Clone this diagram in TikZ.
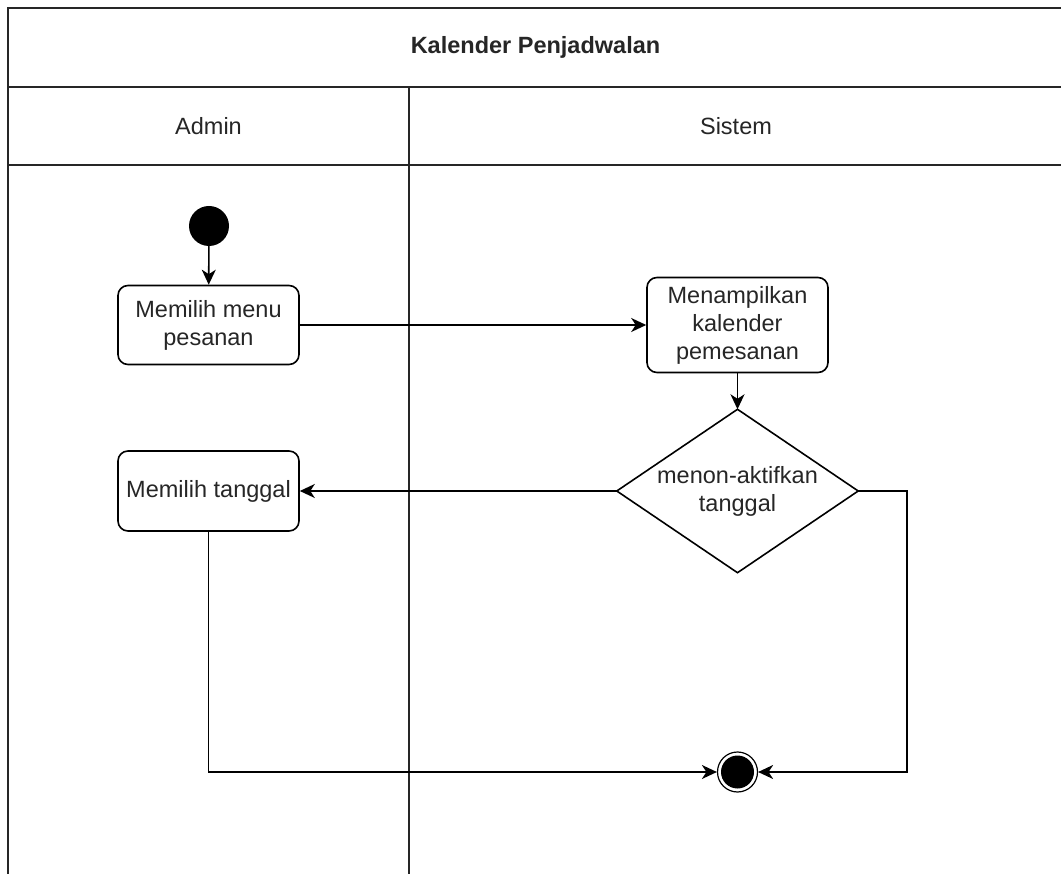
\documentclass[tikz,border=0pt]{standalone}
\usepackage{fontspec}
\setmainfont{Liberation Sans}
\usetikzlibrary{arrows.meta}
\begin{document}
\begin{tikzpicture}[x=1pt,y=-1pt,
  lane/.style={draw=black!85, line width=1.6pt},
  txt/.style={font=\fontsize{23.5}{28}\selectfont, text=black!85, align=center},
  actbox/.style={txt, draw=black, line width=1.6pt, rounded corners=10pt, minimum width=181pt, inner sep=2pt},
  flow/.style={draw=black, line width=1.6pt, -{Stealth[length=15pt,width=14pt,inset=4.5pt]}},
  startnode/.style={circle, fill=black, minimum size=40pt, inner sep=0pt},
  endnode/.style={circle, draw=black, line width=1.2pt, minimum size=40pt, inner sep=0pt,
    path picture={\fill[black] (path picture bounding box.center) circle (16.5pt);}}
]
\useasboundingbox (0,0) rectangle (1061,874);
\clip (0,0) rectangle (1061,874);
\fill[white] (0,0) rectangle (1061,874);
% swimlane frame
\draw[lane] (8,890) -- (8,8) -- (1075,8);
\draw[lane] (8,87) -- (1075,87);
\draw[lane] (8,165) -- (1075,165);
\draw[lane] (409,87) -- (409,890);
\node[txt, font=\fontsize{23.5}{28}\selectfont\bfseries] (title) at (535.5,47) {Kalender Penjadwalan};
\node[txt] (admin) at (208.5,126) {Admin};
\node[txt] (sistem) at (736,126) {Sistem};
% nodes
\node[startnode] (start) at (209,226) {};
\node[actbox, minimum height=79pt] (b1) at (208.5,325) {Memilih menu\\pesanan};
\node[actbox, minimum height=95pt] (b3) at (737.5,325) {Menampilkan\\kalender\\pemesanan};
\node[txt, minimum width=241pt, minimum height=163pt, inner sep=0pt] (dec) at (737.5,491) {menon-aktifkan\\tanggal};
\draw[black, line width=1.6pt] (dec.north) -- (dec.east) -- (dec.south) -- (dec.west) -- cycle;
\node[actbox, minimum height=80pt] (b2) at (208.5,491) {Memilih tanggal};
\node[endnode] (end) at (737.5,772) {};
\coordinate (r) at (907,772);
% connectors
\draw[flow] (start) -- (b1);
\draw[flow] (b1.east) -- (b3.west);
\draw[flow] (b3.south) -- (dec.north);
\draw[flow] (dec.west) -- (b2.east);
\draw[flow] (dec.east) -| (r) -- (end.east);
\draw[flow] (b2.south) |- (end.west);
\end{tikzpicture}
\end{document}
